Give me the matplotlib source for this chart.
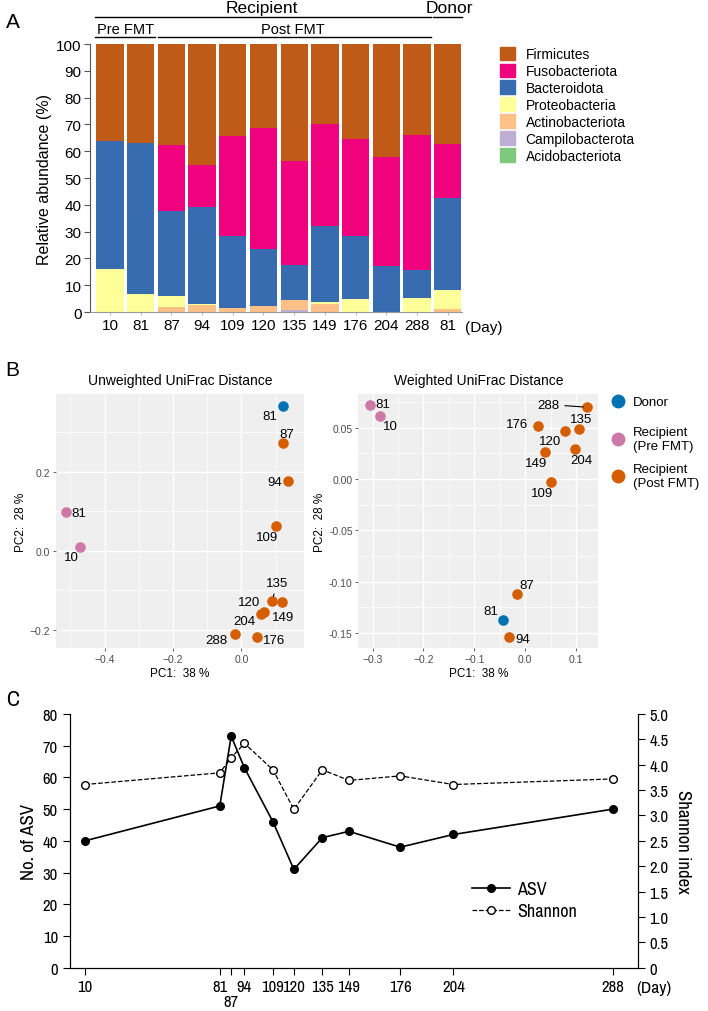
import os
import matplotlib
matplotlib.use("Agg")
import matplotlib.pyplot as plt
from matplotlib import font_manager
from matplotlib.font_manager import FontProperties
from matplotlib.lines import Line2D
from matplotlib.patches import Patch
from matplotlib.ticker import MultipleLocator, FormatStrFormatter
import numpy as np

plt.rcParams['font.family'] = ['Liberation Sans', 'DejaVu Sans']

# ---------------- panel A: relative abundance (%)
samples = ['10', '81', '87', '94', '109', '120', '135', '149', '176', '204', '288', '81']
phyla = ['Firmicutes', 'Fusobacteriota', 'Bacteroidota', 'Proteobacteria',
         'Actinobacteriota', 'Campilobacterota', 'Acidobacteriota']
acido = [0, 0, 0, 0, 0, 0, 0, 0, 0, 0, 0, 0]
campilo = [0, 0, 0, 0, 0, 0, 0.6, 0, 0, 0, 0, 0]
actino = [0, 0, 1.9, 2.5, 1.6, 2.1, 3.7, 3.1, 0, 0, 0, 1.2]
proteo = [16.1, 6.6, 3.9, 0.6, 0, 0, 0, 0.5, 4.7, 0, 5.2, 7.1]
bacteroid = [47.9, 56.5, 31.8, 36.0, 26.8, 21.3, 13.1, 28.4, 23.7, 17.0, 10.3, 34.3]
fuso = [0, 0, 24.9, 15.6, 37.3, 45.4, 38.9, 38.2, 36.3, 41.0, 50.7, 20.1]
firmi = list(100 - np.array(acido) - np.array(campilo) - np.array(actino)
             - np.array(proteo) - np.array(bacteroid) - np.array(fuso))
phylum_colors = ['#BF5B17', '#F0027F', '#386CB0', '#FFFF99', '#FDC086', '#BEAED4', '#7FC97F']

# ---------------- panel B: PCoA
pc_labels = ['81', '81', '10', '87', '94', '109', '120', '135', '149', '176', '204', '288']
pc_groups = ['Donor', 'Pre', 'Pre', 'Post', 'Post', 'Post', 'Post', 'Post',
             'Post', 'Post', 'Post', 'Post']
unw_pc1 = [0.120, -0.513, -0.471, 0.120, 0.137, 0.101, 0.118, 0.090, 0.065, 0.046, 0.056, -0.019]
unw_pc2 = [0.367, 0.097, 0.010, 0.272, 0.177, 0.062, -0.129, -0.126, -0.154, -0.219, -0.160, -0.211]
w_pc1 = [-0.044, -0.304, -0.285, -0.0155, -0.031, 0.0506, 0.078, 0.106, 0.039, 0.0245, 0.0977, 0.122]
w_pc2 = [-0.1376, 0.0718, 0.0618, -0.1124, -0.154, -0.0032, 0.047, 0.0487, 0.026, 0.0514, 0.029, 0.0699]
group_colors = {'Donor': '#0072B2', 'Pre': '#CC79A7', 'Post': '#D55E00'}
legend_groups = ['Donor', 'Pre', 'Post']
legend_names = ['Donor', 'Recipient\n(Pre FMT)', 'Recipient\n(Post FMT)']

# ---------------- panel C: alpha diversity
days = [10, 81, 87, 94, 109, 120, 135, 149, 176, 204, 288]
asv = [40, 51, 73, 63, 46, 31, 41, 43, 38, 42, 50]
shannon = [3.61, 3.84, 4.14, 4.42, 3.90, 3.12, 3.90, 3.69, 3.78, 3.61, 3.72]
low_day = 87  # this tick label sits on a second row


def pick_narrow():
    # look for a condensed sans face; panel C in the original uses one
    best = None
    for f in font_manager.fontManager.ttflist:
        fn = os.path.basename(f.fname).lower()
        nm = f.name.lower()
        if f.style != 'normal' or 'bold' in fn or 'italic' in fn or 'oblique' in fn:
            continue
        if f.weight not in (400, 'normal', 'regular', 'book'):
            continue
        if 'narrow' in nm or 'narrow' in fn:
            rank = 0
        elif 'condensed' in nm or 'condensed' in fn or f.stretch == 'condensed':
            rank = 1 if ('roboto' in fn or 'open' in fn or 'noto' in fn) else 2
        else:
            continue
        if best is None or rank < best[0]:
            best = (rank, f.fname)
    return best[1] if best else None


narrow_file = pick_narrow()


def cfont(size):
    if narrow_file:
        return FontProperties(fname=narrow_file, size=size)
    return FontProperties(family='Liberation Sans', size=size * 0.88)


fig = plt.figure(figsize=(7.08, 10.12), dpi=100)

# ===== A =====
axA = fig.add_axes([0.127, 0.6907, 0.525, 0.2648])
x = np.arange(len(samples))
stack = [firmi, fuso, bacteroid, proteo, actino, campilo, acido]
bottom = np.zeros(len(samples))
for vals, col in zip(stack[::-1], phylum_colors[::-1]):
    axA.bar(x, vals, width=0.89, bottom=bottom, color=col, linewidth=0)
    bottom += np.array(vals)
axA.set_xlim(-0.65, 11.45)
axA.set_ylim(0, 100)
axA.set_yticks(range(0, 101, 10))
axA.set_xticks(x)
axA.set_xticklabels(samples)
axA.tick_params(axis='y', labelsize=11, length=4, color='#555555', pad=2)
axA.tick_params(axis='x', labelsize=11, length=2, color='#bbbbbb', pad=2)
for s in ['top', 'right']:
    axA.spines[s].set_visible(False)
axA.spines['left'].set_color('#555555')
axA.spines['bottom'].set_color('#999999')
axA.set_ylabel('Relative abundance (%)', fontsize=11.5, labelpad=3)
axA.text(11.55, -0.03, '(Day)', transform=axA.get_xaxis_transform(),
         fontsize=11, ha='left', va='top')
tr = axA.get_xaxis_transform()
for x0, x1, yy in [(-0.49, 10.44, 1.1008), (10.53, 11.45, 1.1008),
                   (-0.49, 1.47, 1.026), (1.57, 10.44, 1.026)]:
    axA.add_line(Line2D([x0, x1], [yy, yy], color='black', lw=1.0,
                        transform=tr, clip_on=False))
axA.text(4.96, 1.135, 'Recipient', transform=tr, ha='center', va='center', fontsize=12.5)
axA.text(11.06, 1.135, 'Donor', transform=tr, ha='center', va='center', fontsize=12.5)
axA.text(0.5, 1.055, 'Pre FMT', transform=tr, ha='center', va='center', fontsize=10.5)
axA.text(5.97, 1.055, 'Post FMT', transform=tr, ha='center', va='center', fontsize=10.5)
fig.legend(handles=[Patch(color=c) for c in phylum_colors], labels=phyla,
           loc='upper left', bbox_to_anchor=(0.706, 0.953), frameon=False,
           fontsize=10, handlelength=1.1, handleheight=1.15, labelspacing=0.17,
           handletextpad=0.75, borderpad=0, borderaxespad=0)
fig.text(0.008, 0.978, 'A', fontsize=15, va='center')

# ===== B =====
unw_off = {0: (-13, 10), 1: (13, 0.6), 2: (-9, 10.5), 3: (4, -9.5), 4: (-14, 0.7),
           5: (-9, 10.6), 6: (-33, 0), 7: (5, -18), 8: (19, 5), 9: (17, 2.3),
           10: (-16, 7.5), 11: (-19, 5.7)}
w_off = {0: (-12, -9), 1: (12.5, -1.3), 2: (10, 10.5), 3: (9, -9), 4: (13, 2.4),
         5: (-8.5, 10.3), 6: (-15, 10.4), 7: (2, -9.7), 8: (-8.5, 10.3), 9: (-21, -2.3),
         10: (6, 10.7), 11: (-39, -2.7)}
seg_unw = [7]
seg_w = [11]


def pcoa(ax, pc1, pc2, offs, segs, title):
    ax.set_facecolor('#EFEFEF')
    for i in range(len(pc1)):
        ax.scatter(pc1[i], pc2[i], s=58, color=group_colors[pc_groups[i]],
                   zorder=3, linewidths=0)
        dx, dy = offs[i]
        ax.annotate(pc_labels[i], (pc1[i], pc2[i]), xytext=(dx * 0.72, -dy * 0.72),
                    textcoords='offset points', ha='center', va='center',
                    fontsize=9.5, zorder=4,
                    arrowprops=dict(arrowstyle='-', lw=0.8, color='black',
                                    shrinkA=2, shrinkB=3) if i in segs else None)
    ax.grid(which='major', color='white', lw=1.0)
    ax.grid(which='minor', color='white', lw=0.5)
    ax.set_axisbelow(True)
    for s in ax.spines.values():
        s.set_visible(False)
    ax.tick_params(which='major', labelsize=7.5, labelcolor='#4D4D4D', color='#4D4D4D',
                   length=2.5, width=0.6, pad=1.5)
    ax.tick_params(which='minor', length=0)
    ax.set_xlabel('PC1:  38 %', fontsize=8.5, labelpad=2)
    ax.set_ylabel('PC2:  28 %', fontsize=8.5, labelpad=2)
    ax.set_title(title, fontsize=10, pad=7)


axU = fig.add_axes([0.079, 0.3584, 0.350, 0.2513])
axU.set_xlim(-0.542, 0.182)
axU.set_ylim(-0.247, 0.397)
axU.xaxis.set_major_locator(MultipleLocator(0.2))
axU.xaxis.set_minor_locator(MultipleLocator(0.1))
axU.yaxis.set_major_locator(MultipleLocator(0.2))
axU.yaxis.set_minor_locator(MultipleLocator(0.1))
pcoa(axU, unw_pc1, unw_pc2, unw_off, seg_unw, 'Unweighted UniFrac Distance')

axW = fig.add_axes([0.506, 0.3584, 0.339, 0.2513])
axW.set_xlim(-0.328, 0.1435)
axW.set_ylim(-0.165, 0.0828)
axW.xaxis.set_major_locator(MultipleLocator(0.1))
axW.xaxis.set_minor_locator(MultipleLocator(0.05))
axW.yaxis.set_major_locator(MultipleLocator(0.05))
axW.yaxis.set_minor_locator(MultipleLocator(0.025))
pcoa(axW, w_pc1, w_pc2, w_off, seg_w, 'Weighted UniFrac Distance')
axW.yaxis.set_major_formatter(FormatStrFormatter('%.2f'))

# one legend per key so the rows keep the same pitch as in the original
for k, (g, name) in enumerate(zip(legend_groups, legend_names)):
    h = Line2D([], [], ls='', marker='o', ms=10, mec='none', color=group_colors[g])
    fig.legend(handles=[h], labels=[name], loc='center left',
               bbox_to_anchor=(0.861, 0.6015 - k * 0.0366), frameon=False,
               fontsize=9.5, handlelength=1.2, handletextpad=0.55, borderpad=0,
               borderaxespad=0)
fig.text(0.008, 0.634, 'B', fontsize=15, va='center')

# ===== C =====
axC = fig.add_axes([0.0985, 0.0428, 0.8021, 0.2507])
axC2 = axC.twinx()
l1, = axC.plot(days, asv, '-o', color='black', ms=5.5, lw=1.2, label='ASV')
l2, = axC2.plot(days, shannon, '--o', color='black', mfc='white', ms=5.5, lw=0.9,
                label='Shannon')
axC.set_xlim(2, 301)
axC.set_ylim(0, 80)
axC2.set_ylim(0, 5)
axC.set_yticks(range(0, 81, 10))
axC2.set_yticks(np.arange(0, 5.01, 0.5))
axC2.set_yticklabels(['0'] + ['%.1f' % v for v in np.arange(0.5, 5.01, 0.5)])
top_days = [d for d in days if d != low_day]
axC.set_xticks(top_days)
axC.set_xticklabels([str(d) for d in top_days])
axC.set_xticks([low_day], minor=True)
axC.set_xticklabels([str(low_day)], minor=True)
for a in (axC, axC2):
    a.spines['top'].set_visible(False)
    for lab in (a.get_yticklabels() + a.get_xticklabels()
                + a.get_xticklabels(minor=True)):
        lab.set_fontproperties(cfont(12))
axC.tick_params(axis='both', which='major', length=5, width=0.8)
axC.tick_params(axis='x', which='minor', length=5, width=0.8, pad=14)
axC2.tick_params(axis='y', length=5, width=0.8)
axC.set_ylabel('No. of ASV', fontproperties=cfont(13.5), labelpad=4)
axC2.set_ylabel('Shannon index', fontproperties=cfont(13.5), rotation=-90, labelpad=16)
axC.text(0.997, -0.08, '(Day)', transform=axC.transAxes, ha='left', va='center',
         fontproperties=cfont(12.5))
axC.legend(handles=[l1, l2], loc='upper left', bbox_to_anchor=(0.709, 0.34),
           frameon=False, prop=cfont(13), handlelength=2.1,
           handletextpad=0.4, labelspacing=0.3, borderpad=0, borderaxespad=0)
fig.text(0.008, 0.308, 'C', fontproperties=cfont(16), va='center')

fig.savefig('out.png', dpi=100)
